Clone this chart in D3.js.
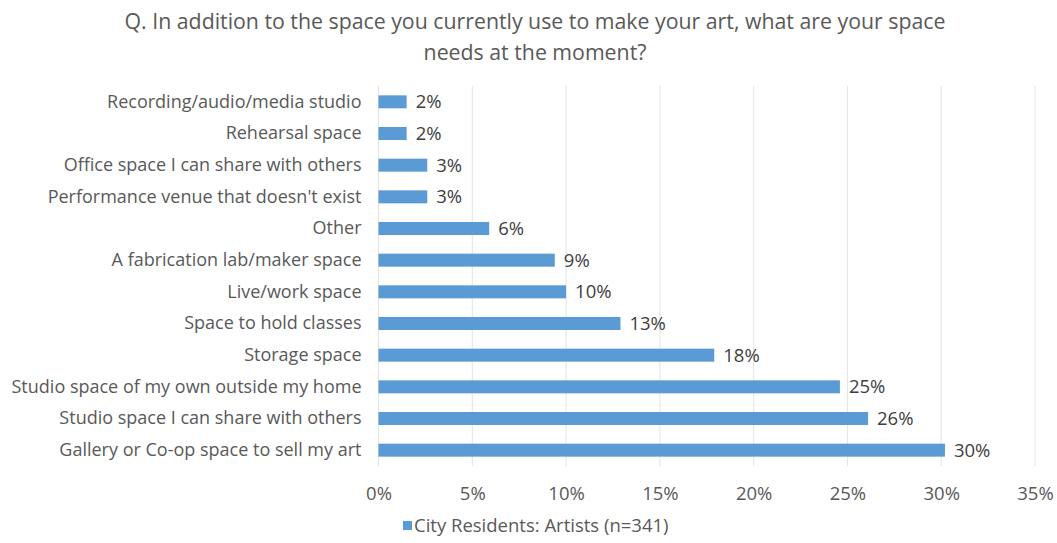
<!DOCTYPE html>
<html>
<head>
<meta charset="utf-8">
<script src="https://cdn.jsdelivr.net/npm/d3@7"></script>
<style>
  html, body { margin: 0; padding: 0; background: #ffffff; }
  svg { display: block; font-family: "Open Sans", sans-serif; }
</style>
</head>
<body>
<svg id="chart" width="1057" height="543"></svg>
<script>
const categories = [
  "Recording/audio/media studio",
  "Rehearsal space",
  "Office space I can share with others",
  "Performance venue that doesn't exist",
  "Other",
  "A fabrication lab/maker space",
  "Live/work space",
  "Space to hold classes",
  "Storage space",
  "Studio space of my own outside my home",
  "Studio space I can share with others",
  "Gallery or Co-op space to sell my art"
];
const values = [1.5, 1.5, 2.6, 2.6, 5.9, 9.4, 10.0, 12.9, 17.9, 24.6, 26.1, 30.2];
const valueLabels = ["2%", "2%", "3%", "3%", "6%", "9%", "10%", "13%", "18%", "25%", "26%", "30%"];
const xTicks = [0, 5, 10, 15, 20, 25, 30, 35];
const seriesName = "City Residents: Artists (n=341)";
const titleLines = [
  "Q. In addition to the space you currently use to make your art, what are your space",
  "needs at the moment?"
];

const svg = d3.select("#chart");
const margin = { left: 378.5, right: 1035, top: 86, bottom: 466 };
const barColor = "#5b9bd5";
const textColor = "#595959";

const x = d3.scaleLinear().domain([0, 35]).range([margin.left, margin.right]);
const y = d3.scaleBand().domain(categories).range([margin.top, margin.bottom]).paddingInner(0.59).paddingOuter(0.295);

// title
svg.append("g").selectAll("text").data(titleLines).join("text")
  .attr("x", 535).attr("y", (d, i) => 29 + i * 31)
  .attr("text-anchor", "middle")
  .attr("fill", textColor)
  .style("font-size", "21.3px")
  .text(d => d);

// gridlines
svg.append("g").selectAll("line").data(xTicks).join("line")
  .attr("x1", d => x(d)).attr("x2", d => x(d))
  .attr("y1", margin.top).attr("y2", margin.bottom)
  .attr("stroke", "#e3e3e3").attr("stroke-width", 1);

// x axis labels
const xAxis = d3.axisBottom(x).tickValues(xTicks).tickFormat(d => d + "%").tickSize(0).tickPadding(0);
const gx = svg.append("g").attr("transform", `translate(0, ${margin.bottom + 21})`).call(xAxis);
gx.select(".domain").remove();
gx.selectAll("text").attr("fill", textColor).style("font-size", "18.5px").style("font-family", "'Open Sans', sans-serif");

// y axis labels
const yAxis = d3.axisLeft(y).tickSize(0).tickPadding(0);
const gy = svg.append("g").attr("transform", `translate(${margin.left - 17}, 0)`).call(yAxis);
gy.select(".domain").remove();
gy.selectAll("text").attr("fill", textColor).style("font-size", "18px").style("font-family", "'Open Sans', sans-serif");

// bars
svg.append("g").selectAll("rect").data(categories).join("rect")
  .attr("x", x(0))
  .attr("y", d => y(d))
  .attr("width", (d, i) => x(values[i]) - x(0))
  .attr("height", y.bandwidth())
  .attr("fill", barColor);

// value labels
svg.append("g").selectAll("text").data(categories).join("text")
  .attr("x", (d, i) => x(values[i]) + 9)
  .attr("y", d => y(d) + y.bandwidth() / 2)
  .attr("dy", "0.35em")
  .attr("fill", "#404040")
  .style("font-size", "18.5px")
  .text((d, i) => valueLabels[i]);

// legend
const lg = svg.append("g").attr("transform", "translate(403, 526)");
lg.append("rect").attr("x", 0).attr("y", -5).attr("width", 9).attr("height", 9).attr("fill", barColor);
lg.append("text").attr("x", 11).attr("y", 0).attr("dy", "0.35em")
  .attr("fill", textColor).style("font-size", "18.5px").text(seriesName);
</script>
</body>
</html>
